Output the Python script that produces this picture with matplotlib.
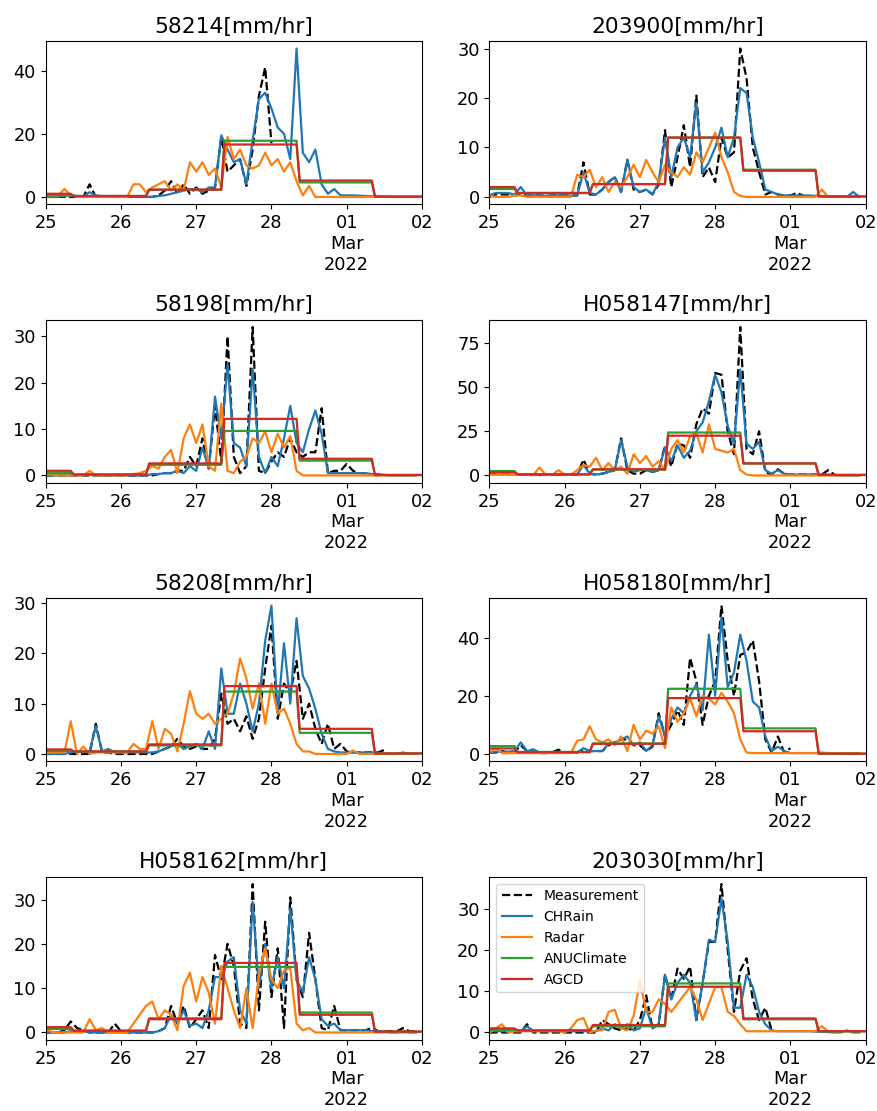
import numpy as np
import matplotlib
matplotlib.use("Agg")
import matplotlib.pyplot as plt
import matplotlib.dates as mdates
from matplotlib.ticker import FuncFormatter

# hourly-ish series, sampled every 2 hours from 2022-02-25 00:00 (60 values per series)
stations = ["58214", "203900", "58198", "H058147", "58208", "H058180", "H058162", "203030"]

meas = {
    "58214": [0, 0, 0, 0, 0, 0, 0, 4, 0, 0, 0, 0,
              0, 0, 0, 0, 0, 0, 0.5, 2, 5, 1, 4, 1,
              3, 1, 2, 3, 19, 8, 10, 12, 3.5, 15, 32, 41,
              17] + [None] * 23,
    "203900": [0, 0.5, 0.5, 0.5, 0.3, 0.5, 0.3, 0.3, 0.3, 0.2, 0.3, 0.3,
               0.3, 0.3, 0.3, 7, 0.5, 0.5, 1.5, 3, 4, 1, 7.5, 1.5,
               1, 1.5, 0.5, 2.5, 13.5, 2, 8, 14.5, 6, 20.5, 4, 6,
               3, 12, 8, 9, 30, 24, 10, 5, 0.5, 1, 0.5, 0.3,
               0.3, 0.8, 0.3] + [None] * 9,
    "58198": [0, 0, 0, 0, 0, 0, 0, 0, 0, 0, 0, 0,
              0, 0, 0, 0, 0, 0, 0.3, 0.5, 0.5, 1, 1, 4,
              2, 8, 1.5, 15, 3, 30, 4, 0.5, 2, 32, 1, 0.5,
              3, 5, 4, 8, 5, 4, 5, 5, 14.5, 0.5, 1, 1,
              2.5, 1, 0.5, 0.5] + [None] * 8,
    "H058147": [0.5, 0.5, 0.5, 0.5, 0.3, 0.3, 0.3, 0.3, 0.3, 0.3, 0.3, 0.3,
                0.3, 0.3, 0.3, 9, 1, 0.5, 1, 2, 3, 21, 3, 1,
                1, 3, 2, 3, 17, 5, 18, 17, 10, 29, 38, 35,
                58, 57, 25, 12, 84, 15, 12, 25, 2, 0.5, 3.5, 1,
                0.5, 0.5, 0.5, 0.5, 0.5, 0.5, 3, 0.5] + [None] * 4,
    "58208": [0, 0, 0, 0, 0, 0, 0, 0, 6, 0.3, 0.3, 0,
              0, 0, 0, 0, 0, 0, 0.5, 1, 1.5, 3, 1.5, 1,
              1.5, 1, 1, 3, 12, 6, 7, 4.5, 7.5, 3, 7, 17,
              25.5, 7, 14, 12, 18.5, 7, 10, 5, 2, 6, 1, 2,
              0.5, 0.3, 0.3, 0.3, 0.3, 0.3, 0.8] + [None] * 5,
    "H058180": [0.5, 0.5, 1, 0.5, 0.5, 3, 1, 1.5, 0.3, 0.3, 0.5, 1.5,
                0.5, 0.5, 0.5, 1.5, 1, 1, 1, 3, 4, 5, 5, 3,
                3, 1, 2.5, 14, 6, 10, 15, 10, 33, 25, 10, 20,
                25, 51, 32, 20, 34, 35, 39, 25, 5, 0.5, 6, 0.5,
                2] + [None] * 11,
    "H058162": [0, 0, 0, 0.5, 2.5, 1, 0.5, 0, 0, 0, 0, 2,
                0.3, 0, 0, 0, 0, 0, 0.3, 1, 6, 2, 6, 1,
                3, 5, 1, 17.5, 12, 20, 15, 2, 1, 33.5, 5, 25,
                8, 19, 1, 30.5, 12, 8, 22.5, 12, 1, 0.5, 6, 0.5,
                0.5, 0.5, 0.5, 0.5, 1, 0.3, 0.3, 0.3, 0.3, 1, 0.3, 0.3],
    "203030": [0, 0, 0, 0, 0, 0, 2, 0, 0, 0, 0, 0,
               0, 0, 0, 0, 0, 0, 3, 2, 1, 0.5, 1, 0.5,
               3, 9, 1, 2, 14, 8, 15.5, 13, 16, 3, 12, 22,
               22, 36, 20, 5, 15, 18, 8, 3, 6, 0.5] + [None] * 14,
}

chrain = {
    "58214": [0, 0, 0, 0.3, 0.5, 0.3, 0.2, 1.5, 0.5, 0.2, 0, 0,
              0, 0, 0, 0, 0, 0, 0.3, 0.5, 1, 1.5, 2, 2.5,
              2.5, 1.5, 3, 3, 19.5, 15, 11, 12, 4, 18, 31, 33,
              28, 22, 20, 12, 47, 14, 11, 15, 4, 1, 2.5, 0.5,
              0.5, 0.5, 0.4, 0.3, 0.2, 0.2, 0.1, 0, 0, 0, 0, 0],
    "203900": [0.3, 0.8, 0.8, 0.8, 0.5, 2, 0.3, 0.3, 0.3, 0.2, 0.3, 0.3,
               0.3, 0.3, 0.3, 5, 0.8, 0.5, 1.5, 3, 4, 1, 7.5, 2,
               1, 1.5, 0.5, 3, 12, 4, 10, 12, 8, 19, 5, 7,
               10, 14, 8, 12, 22, 21, 12, 7, 1.5, 1, 0.5, 0.3,
               0.3, 0.3, 0.3, 0.3, 0.2, 0.2, 0.1, 0.1, 0, 0, 1, 0],
    "58198": [0, 0, 0, 0, 0, 0, 0.2, 0.2, 0, 0, 0, 0,
              0, 0, 0, 0, 0, 0.3, 0.3, 0.5, 0.5, 1, 0.5, 2,
              1, 6, 1.5, 17, 8, 24, 7, 6, 2, 23, 4, 0.5,
              4, 2, 8, 15, 7, 5, 10, 14, 9, 0.5, 0.5, 0.5,
              0.5, 0.5, 0.5, 0.5, 0.3, 0.3, 0.1, 0, 0, 0, 0, 0],
    "H058147": [0.5, 0.5, 0.5, 0.5, 0.5, 0.5, 0.3, 0.3, 0.3, 0.3, 0.3, 0.3,
                0.3, 0.3, 0.5, 6, 1, 0.5, 1, 2, 3, 20, 5, 2,
                3, 3, 2, 3, 16, 8, 17, 10, 14, 25, 30, 42,
                57, 47, 28, 18, 60, 18, 15, 19, 3, 1, 3, 1,
                0.5, 0.5, 0.5, 0.5, 0.5, 0.5, 0.5, 0.2, 0, 0, 0, 0],
    "58208": [0, 0, 0, 0, 0.3, 0.5, 0.3, 0.5, 5.5, 0.5, 1, 0.3,
              0.3, 0.3, 0.3, 0.3, 0.3, 0.3, 0.5, 1, 1.5, 2, 1, 1.5,
              2, 1, 4.5, 1, 17, 8, 8, 14, 10, 4.5, 10, 22.5,
              29.5, 8, 22, 10, 27, 15.5, 13, 9, 4, 1, 0.5, 0.3,
              0.3, 0.3, 0.3, 0.3, 0.2, 0.1, 0, 0, 0, 0.3, 0, 0],
    "H058180": [0.5, 0.8, 0.8, 0.8, 1, 4, 1, 1.5, 0.5, 0.5, 0.5, 0.5,
                0.5, 0.5, 0.5, 2, 1, 1, 1, 3.5, 4, 5, 6, 3,
                4, 1, 3, 13, 6, 12, 16, 14, 20, 24, 15, 41,
                20, 47, 23, 28, 41, 32, 18, 16, 6, 1, 2.5, 1,
                0.3, 0.3, 0.3, 0.3, 0.3, 0.3, 0.3, 0.1, 0, 0, 0, 0],
    "H058162": [0, 0, 0, 0, 0.3, 0.3, 0.3, 0, 0, 0, 0, 0,
                0, 0, 0, 0, 0, 0, 0.3, 1, 4, 2, 5, 1.5,
                2, 1, 5, 12.5, 12.5, 16, 17, 5, 2, 29.5, 10, 20,
                10, 17, 10, 28, 12, 9, 17, 12, 3, 1.5, 2, 0.5,
                0.5, 0.5, 0.5, 0.5, 0.3, 0.3, 0.2, 0, 0, 0.3, 0, 0],
    "203030": [0.3, 0.3, 0.3, 0.3, 0.3, 0.3, 1.5, 0.3, 0.3, 0.3, 0.3, 0.3,
               0.3, 0.3, 0.3, 0.3, 0.3, 0.3, 1, 0.5, 2, 1, 2, 0.5,
               1, 6, 1, 2, 14, 8, 12, 14, 12, 3, 12, 22.5,
               22, 32.5, 22, 6, 6, 14, 11, 5, 2, 0.5, 0.3, 0.3,
               0.3, 0.3, 0.3, 0.3, 0.2, 0.2, 0.1, 0, 0, 0.5, 0, 0],
}

radar = {
    "58214": [0.5, 0.5, 0.5, 2.5, 0.5, 0, 0, 0, 0, 0, 0, 0,
              0, 0, 4, 4, 1.5, 3, 4, 5, 2, 4, 2, 11,
              8, 11, 7, 9, 3, 19, 12, 15, 10, 9, 10, 14,
              10, 12, 8, 11, 5, 0.5, 3.5, 0, 0, 0, 0, 0,
              0, 0, 0, 0, 0, 0.3, 0, 0, 0, 0, 0, 0],
    "203900": [0.3, 0, 0, 0, 0.3, 0.3, 0, 0, 0, 0, 0, 0,
               0, 0, 4.5, 4, 5.5, 2, 4, 1, 3, 2, 4, 6.5,
               4, 7.5, 5, 3, 6.5, 5, 4, 6, 4.5, 9, 7, 10,
               13, 8, 5, 1, 0.2, 0, 0, 0, 0, 0, 0, 0,
               0, 0, 0, 0, 0, 1.5, 0, 0, 0, 0, 0, 0],
    "58198": [0.2, 0.2, 0, 0, 0, 0, 0, 1, 0, 0, 0, 0,
              0, 0, 0.3, 0.5, 1, 2, 1.5, 4, 5.5, 0.5, 8, 11,
              7, 11, 2, 1, 15.5, 1, 0.5, 3, 4, 8, 7, 9.5,
              5, 9, 6, 8.5, 1, 0, 0, 0, 0, 0, 0, 0,
              0, 0, 0, 0, 0, 0, 0, 0, 0, 0, 0, 0],
    "H058147": [0.3, 0.3, 0.3, 0.3, 0.3, 0.3, 0.3, 0.3, 4.5, 0.3, 0.3, 3,
                0.5, 0.5, 3, 6, 5, 10, 3, 7, 3, 5, 1, 12,
                7, 11, 5, 8, 3, 15, 20, 13, 22, 24, 13, 29,
                15, 14, 13, 15, 3, 0.5, 0, 0, 0, 0, 0, 0,
                0, 0, 0, 0, 0, 0, 0, 0, 0, 0, 0, 0],
    "58208": [0.3, 0.3, 0.3, 0.3, 6.5, 0, 1.5, 0, 0.3, 0.3, 0.3, 0.3,
              0.3, 0.3, 2, 1, 1, 6.5, 1, 5, 4, 0.5, 6, 12.5,
              8, 7, 8, 6, 7, 8, 12, 19, 15, 9, 14, 6,
              14, 8, 9, 6, 2, 0.5, 0.5, 0, 0, 0, 0, 0,
              0, 0.7, 0, 0, 0, 0, 0, 0, 0, 0, 0, 0],
    "H058180": [0.5, 2, 0.3, 0.3, 0.3, 0.3, 0.3, 0.3, 0.3, 0.3, 0.3, 0.3,
                0.3, 0.3, 4.5, 5, 9.5, 5, 4, 5, 3, 6, 1, 10,
                5, 8, 7, 9.5, 2, 16, 11, 14, 19, 13, 20, 19,
                17, 21, 18, 14, 5, 0.5, 0.3, 0.3, 0.3, 0.3, 0.3, 0.3,
                0.3, 0.3, 0.3, 0.3, 0.3, 0.5, 0.3, 0.3, 0.3, 0.3, 0.3, 0.3],
    "H058162": [1, 0, 0, 0, 0, 0, 0, 3, 0.5, 1, 0, 0,
                0, 0, 2, 4, 6, 7, 3, 5, 4, 0.5, 10.5, 13.5,
                7, 12.5, 9, 2, 15, 10, 5, 1, 10, 1, 13, 19,
                12, 10, 14, 14.5, 2, 0.5, 1, 0, 0, 0, 0, 0,
                0, 0, 0, 0, 0, 0, 0, 0, 0, 0, 0, 0],
    "203030": [0, 1, 2, 0, 0.3, 0.3, 0.3, 0.3, 0.3, 0.3, 0.3, 0.3,
               0, 1, 3, 3.5, 0, 0.5, 0.5, 5, 5.5, 1, 0.5, 4,
               12.5, 5, 5, 8, 7, 5, 7, 9, 11, 8, 3, 7,
               11, 11, 5, 4, 2, 0.3, 0.3, 0.3, 0.3, 0.3, 0.3, 0.3,
               0.3, 0.3, 0.3, 0.3, 0.3, 1.5, 0.3, 0.3, 0.3, 0.3, 0.3, 0.3],
}

# daily values (9am to 9am), periods: before 25 09h, 25-26, 26-27, 27-28, 28-01, after 01 09h
anuclimate = {
    "58214": [0.5, 0.3, 2.3, 17.8, 4.6, 0.1],
    "203900": [1.6, 0.8, 2.6, 12.0, 5.5, 0.1],
    "58198": [0.5, 0.2, 2.3, 9.6, 3.2, 0.1],
    "H058147": [2.5, 0.6, 3.3, 24.3, 6.8, 0.3],
    "58208": [0.6, 0.5, 1.7, 12.4, 4.2, 0.1],
    "H058180": [2.7, 0.7, 3.6, 22.4, 8.8, 0.1],
    "H058162": [0.8, 0.4, 3.2, 14.8, 4.5, 0.2],
    "203030": [0.6, 0.5, 1.5, 11.9, 3.2, 0.3],
}
agcd = {
    "58214": [1.0, 0.3, 2.3, 16.6, 5.2, 0.1],
    "203900": [2.0, 0.8, 2.6, 12.0, 5.3, 0.1],
    "58198": [1.0, 0.2, 2.6, 12.2, 3.6, 0.1],
    "H058147": [1.9, 0.6, 3.5, 22.5, 6.8, 0.3],
    "58208": [0.9, 0.5, 1.9, 13.5, 5.0, 0.1],
    "H058180": [1.9, 0.6, 3.5, 19.2, 7.8, 0.1],
    "H058162": [1.2, 0.4, 3.0, 15.7, 4.0, 0.2],
    "203030": [1.0, 0.5, 1.8, 11.1, 3.4, 0.3],
}

t0 = np.datetime64("2022-02-25T00:00")
t = t0 + np.arange(60) * np.timedelta64(2, "h")

# step line coordinates for the daily products
bounds = [t0 + np.timedelta64(9 + 24 * k, "h") for k in range(5)]
step_t = [t0]
for b in bounds:
    step_t += [b - np.timedelta64(1, "h"), b]
step_t.append(t0 + np.timedelta64(120, "h"))


def step_y(vals):
    y = [vals[0]]
    for k in range(5):
        y += [vals[k], vals[k + 1]]
    y.append(vals[5])
    return y


def day_fmt(x, pos):
    d = mdates.num2date(x)
    if d.day == 1:
        return d.strftime("%d\n%b\n%Y")
    return d.strftime("%d")


fig, axes = plt.subplots(4, 2, figsize=(8.78, 11.11), dpi=100)
fig.subplots_adjust(left=0.052, right=0.986, top=0.963, bottom=0.064,
                    wspace=0.179, hspace=0.706)

lw = 1.6
for ax, st in zip(axes.flat, stations):
    ax.plot(t, np.array(meas[st], dtype=float), "k--", lw=lw, label="Measurement")
    ax.plot(t, np.array(chrain[st], dtype=float), color="tab:blue", lw=lw, label="CHRain")
    ax.plot(t, np.array(radar[st], dtype=float), color="tab:orange", lw=lw, label="Radar")
    ax.plot(step_t, step_y(anuclimate[st]), color="tab:green", lw=lw, label="ANUClimate")
    ax.plot(step_t, step_y(agcd[st]), color="tab:red", lw=lw, label="AGCD")
    ax.set_title(st + "[mm/hr]", fontsize=15.7)
    ax.set_xlim(t0, t0 + np.timedelta64(120, "h"))
    ax.xaxis.set_major_locator(mdates.DayLocator())
    ax.xaxis.set_major_formatter(FuncFormatter(day_fmt))
    ax.tick_params(labelsize=12.8)

axes[3, 1].legend(loc="upper left", fontsize=10, handlelength=2.2)

plt.savefig("out.png")
